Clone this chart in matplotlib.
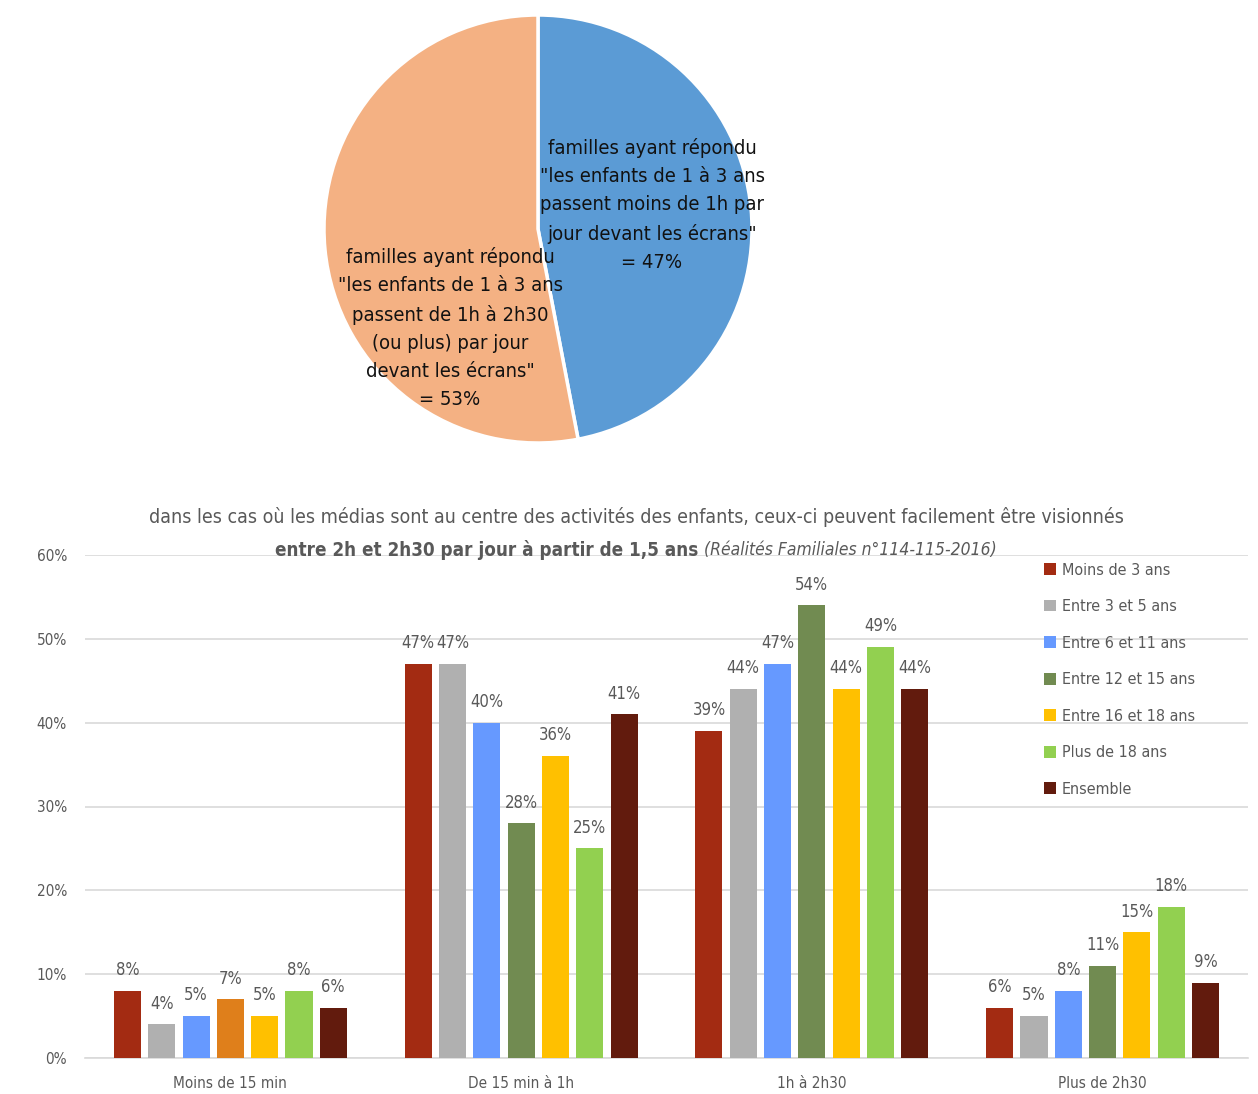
import numpy as np
import matplotlib
matplotlib.use("Agg")
import matplotlib.pyplot as plt
from matplotlib.patches import Patch

plt.rcParams['font.family'] = ['DejaVu Sans']
plt.rcParams['font.stretch'] = 'condensed'

# camembert
pie_values = [47, 53]
pie_colors = ['#5B9BD5', '#F4B183']
pie_labels = [
    'familles ayant répondu\n"les enfants de 1 à 3 ans\npassent moins de 1h par\njour devant les écrans"\n= 47%',
    'familles ayant répondu\n"les enfants de 1 à 3 ans\npassent de 1h à 2h30\n(ou plus) par jour\ndevant les écrans"\n= 53%',
]

# histogramme
categories = ['Moins de 15 min', 'De 15 min à 1h', '1h à 2h30', 'Plus de 2h30']
series = ['Moins de 3 ans', 'Entre 3 et 5 ans', 'Entre 6 et 11 ans', 'Entre 12 et 15 ans',
          'Entre 16 et 18 ans', 'Plus de 18 ans', 'Ensemble']
moins_3 = [8, 47, 39, 6]
entre_3_5 = [4, 47, 44, 5]
entre_6_11 = [5, 40, 47, 8]
entre_12_15 = [7, 28, 54, 11]
entre_16_18 = [5, 36, 44, 15]
plus_18 = [8, 25, 49, 18]
ensemble = [6, 41, 44, 9]
values = [moins_3, entre_3_5, entre_6_11, entre_12_15, entre_16_18, plus_18, ensemble]
colors = ['#A32B12', '#B0B0B0', '#6699FF', '#718B51', '#FFC000', '#92D050', '#621B0D']
# dans l'original, la barre 12-15 ans du premier groupe est orange
special_color = {(3, 0): '#DF7F1B'}

grey = '#595959'

fig = plt.figure(figsize=(12.58, 10.94), dpi=100)

# --- camembert ---
W, H = 1258, 1094
cx, cy, r = 538, 229, 214
ax_pie = fig.add_axes([(cx - r) / W, 1 - (cy + r) / H, 2 * r / W, 2 * r / H])
ax_pie.pie(pie_values, colors=pie_colors, startangle=90, counterclock=False,
           wedgeprops=dict(edgecolor='white', linewidth=2.5))
ax_pie.set_xlim(-1, 1)
ax_pie.set_ylim(-1, 1)
ax_pie.set_aspect('equal')
ax_pie.axis('off')
ax_pie.text(0.533, 0.112, pie_labels[0], ha='center', va='center', fontsize=14.5,
            linespacing=1.6, color='#111111')
ax_pie.text(-0.411, -0.463, pie_labels[1], ha='center', va='center', fontsize=14.5,
            linespacing=1.6, color='#111111')

# --- barres ---
ax = fig.add_axes([85 / W, 1 - 1058 / H, (1248 - 85) / W, (1058 - 555) / H])
x = np.arange(len(categories))
slot = 0.118
width = 0.093
for i, (name, vals, c) in enumerate(zip(series, values, colors)):
    pos = x + (i - 3) * slot
    bar_colors = [special_color.get((i, j), c) for j in range(len(vals))]
    bars = ax.bar(pos, vals, width, color=bar_colors, zorder=3)
    for b, v in zip(bars, vals):
        ax.text(b.get_x() + b.get_width() / 2, v + 1.4, f'{v}%', ha='center', va='bottom',
                fontsize=12, color=grey)

ax.set_xlim(-0.5, 3.5)
ax.set_ylim(0, 60)
ax.set_yticks(range(0, 61, 10))
ax.set_yticklabels([f'{t}%' for t in range(0, 61, 10)])
ax.set_xticks(x)
ax.set_xticklabels(categories)
ax.tick_params(axis='both', length=0, labelsize=11, colors=grey)
ax.tick_params(axis='y', pad=13)
ax.tick_params(axis='x', pad=13)
ax.grid(axis='y', color='#D9D9D9', linewidth=1.2, zorder=0)
for s in ['top', 'right', 'left']:
    ax.spines[s].set_visible(False)
ax.spines['bottom'].set_color('#D9D9D9')
ax.spines['bottom'].set_linewidth(1.2)

handles = [Patch(facecolor=c, label=n) for n, c in zip(series, colors)]
leg = ax.legend(handles=handles, loc='upper left', bbox_to_anchor=(0.825, 0.985), frameon=False,
                fontsize=11.5, handlelength=0.75, handleheight=0.75, handletextpad=0.35,
                labelspacing=1.35, borderaxespad=0, borderpad=0)
for t in leg.get_texts():
    t.set_color(grey)

# --- titre ---
fig.text(636 / W, 1 - 517 / H,
         "dans les cas où les médias sont au centre des activités des enfants, ceux-ci peuvent facilement être visionnés",
         ha='center', va='center', fontsize=14, color=grey)
renderer = fig.canvas.get_renderer()
t1 = fig.text(0, 1 - 550 / H, "entre 2h et 2h30 par jour à partir de 1,5 ans ",
              ha='left', va='center', fontsize=13.5, fontweight='bold', color=grey)
t2 = fig.text(0, 1 - 550 / H, "(Réalités Familiales n°114-115-2016)",
              ha='left', va='center', fontsize=12.5, fontstyle='italic', color=grey)
w1 = t1.get_window_extent(renderer).width
w2 = t2.get_window_extent(renderer).width
x0 = 636 - (w1 + w2) / 2
t1.set_x(x0 / W)
t2.set_x((x0 + w1) / W)

fig.savefig('out.png', dpi=100)
